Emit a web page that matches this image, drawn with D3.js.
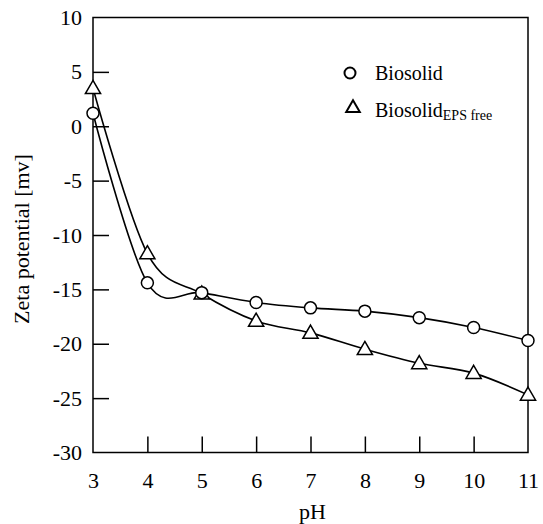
<!DOCTYPE html>
<html><head><meta charset="utf-8">
<script src="https://cdn.jsdelivr.net/npm/d3@7"></script>
<style>body{margin:0;background:#fff}svg{display:block}</style>
</head><body>
<script>
const pH = [3, 4, 5, 6, 7, 8, 9, 10, 11];
const biosolid = [1.2, -14.4, -15.3, -16.2, -16.7, -17.0, -17.6, -18.5, -19.7];
const biosolidEPSfree = [3.5, -11.7, -15.4, -17.9, -19.0, -20.5, -21.8, -22.7, -24.7];
const xTicks = [3, 4, 5, 6, 7, 8, 9, 10, 11];
const yTicks = [-30, -25, -20, -15, -10, -5, 0, 5, 10];

const W = 543, H = 524;
const m = {l: 93, r: 528, t: 17.5, b: 452.5};
const font = "'Liberation Serif', 'Times New Roman', serif";
const svg = d3.select("body").append("svg").attr("width", W).attr("height", H);

const x = d3.scaleLinear().domain([3, 11]).range([m.l, m.r]);
const y = d3.scaleLinear().domain([-30, 10]).range([m.b, m.t]);

// frame
svg.append("rect").attr("x", m.l).attr("y", m.t).attr("width", m.r - m.l).attr("height", m.b - m.t)
  .attr("fill", "none").attr("stroke", "#000").attr("stroke-width", 1.5);

// axes
const xAxis = d3.axisBottom(x).tickValues(xTicks).tickSizeInner(-16).tickSizeOuter(0).tickPadding(20).tickFormat(d => String(d));
const gx = svg.append("g").attr("transform", `translate(0,${m.b})`).call(xAxis);
const yAxis = d3.axisLeft(y).tickValues(yTicks).tickSizeInner(-16).tickSizeOuter(0).tickPadding(11).tickFormat(d => String(d));
const gy = svg.append("g").attr("transform", `translate(${m.l},0)`).call(yAxis);
[gx, gy].forEach(g => {
  g.select(".domain").remove();
  g.selectAll(".tick line").attr("stroke", "#000").attr("stroke-width", 1.5);
  g.selectAll(".tick text").attr("font-family", font).attr("font-size", 22).attr("fill", "#000");
});
gx.selectAll(".tick text").attr("dy", "0.71em");
gx.selectAll(".tick").filter(d => d === 3 || d === 11).select("line").remove();
gy.selectAll(".tick").filter(d => d === -30 || d === 10).select("line").remove();

// axis titles
svg.append("text").attr("x", (m.l + m.r) / 2 + 2).attr("y", 519).attr("text-anchor", "middle")
  .attr("font-family", font).attr("font-size", 22).text("pH");
svg.append("text").attr("transform", `translate(29,${(m.t + m.b) / 2 + 4}) rotate(-90)`).attr("text-anchor", "middle")
  .attr("font-family", font).attr("font-size", 22).text("Zeta potential [mv]");

const line = d3.line().x(d => x(d[0])).y(d => y(d[1])).curve(d3.curveCardinal.tension(0));
const s1 = pH.map((p, i) => [p, biosolid[i]]);
const s2 = pH.map((p, i) => [p, biosolidEPSfree[i]]);
[s1, s2].forEach(s => svg.append("path").attr("d", line(s)).attr("fill", "none").attr("stroke", "#000").attr("stroke-width", 1.6));

const tri = d3.symbol().type(d3.symbolTriangle).size(100);
svg.append("g").selectAll("path").data(s2).join("path")
  .attr("d", tri).attr("transform", d => `translate(${x(d[0])},${y(d[1]) + 1})`)
  .attr("fill", "#fff").attr("stroke", "#000").attr("stroke-width", 1.5);
svg.append("g").selectAll("circle").data(s1).join("circle")
  .attr("cx", d => x(d[0])).attr("cy", d => y(d[1])).attr("r", 6)
  .attr("fill", "#fff").attr("stroke", "#000").attr("stroke-width", 1.5);

// legend
svg.append("circle").attr("cx", 350).attr("cy", 73).attr("r", 5.5).attr("fill", "#fff").attr("stroke", "#000").attr("stroke-width", 2);
svg.append("path").attr("d", d3.symbol().type(d3.symbolTriangle).size(80)).attr("transform", "translate(353,108)")
  .attr("fill", "#fff").attr("stroke", "#000").attr("stroke-width", 2);
svg.append("text").attr("x", 375).attr("y", 80).attr("font-family", font).attr("font-size", 20).text("Biosolid");
const t2 = svg.append("text").attr("x", 375).attr("y", 117).attr("font-family", font).attr("font-size", 20);
t2.append("tspan").text("Biosolid");
t2.append("tspan").attr("font-size", 14).attr("dy", 3).text("EPS free");
</script>
</body></html>
